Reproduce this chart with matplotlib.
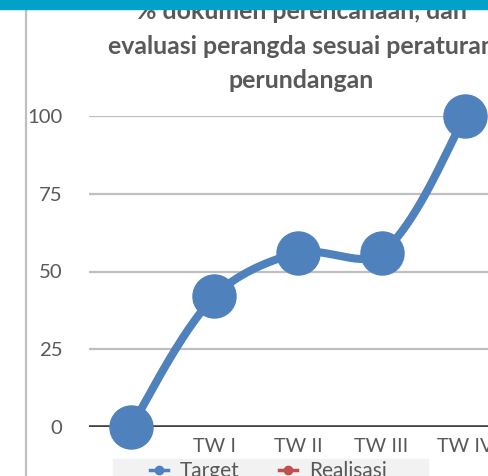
import matplotlib.pyplot as plt
import numpy as np
from matplotlib.lines import Line2D
from matplotlib.patches import Rectangle

# data
categories = ["", "TW I", "TW II", "TW III", "TW IV"]
target = [0, 42, 56, 55.8, 100]
realisasi = []
yticks = [0, 25, 50, 75, 100]
title_lines = ["% dokumen perencanaan, dan",
               "evaluasi perangda sesuai peraturan",
               "perundangan"]

W, H = 489, 476
plt.rcParams['font.family'] = ['Lato', 'DejaVu Sans']
fig = plt.figure(figsize=(W / 100, H / 100), dpi=100)


def fx(x):
    return x / W


def fy(y):
    return 1 - y / H


# plot area: x 89 -> 507 px, y 116 (100) -> 427 (0)
ax = fig.add_axes([fx(89), fy(427), (507 - 89) / W, (427 - 116) / H])
ax.set_xlim(-0.5, len(categories) - 0.5)
ax.set_ylim(0, 100)
for s in ax.spines.values():
    s.set_visible(False)
ax.set_yticks(yticks)
ax.set_yticklabels([str(v) for v in yticks], color='#595959', fontsize=14.6)
ax.tick_params(axis='y', length=0, pad=19)
ax.set_xticks(range(len(categories)))
ax.set_xticklabels(categories, color='#595959', fontsize=14.3)
ax.tick_params(axis='x', length=0, pad=8)
for v in yticks[1:]:
    ax.axhline(v, color='#BFBFBF', lw=1.6, zorder=1)
ax.axhline(0, color='#404040', lw=2.6, zorder=2, xmin=-0.005)


# excel style smoothed line, control points scaled by segment length
def smooth(xs, ys, n=40):
    sx = 83.6 / 3.11  # px per category / px per unit
    pts = np.column_stack([np.asarray(xs) * sx, ys]).astype(float)
    out = []
    for i in range(len(pts) - 1):
        p0 = pts[max(i - 1, 0)]
        p1 = pts[i]
        p2 = pts[i + 1]
        p3 = pts[min(i + 2, len(pts) - 1)]
        d01 = np.linalg.norm(p1 - p0)
        d12 = np.linalg.norm(p2 - p1)
        d23 = np.linalg.norm(p3 - p2)
        k1 = 2 * d12 / (d01 + d12) if d01 > 0 else 1
        k2 = 2 * d12 / (d12 + d23) if d23 > 0 else 1
        c1 = p1 + (p2 - p0) / 6 * k1
        c2 = p2 - (p3 - p1) / 6 * k2
        t = np.linspace(0, 1, n)[:, None]
        seg = ((1 - t) ** 3 * p1 + 3 * (1 - t) ** 2 * t * c1
               + 3 * (1 - t) * t ** 2 * c2 + t ** 3 * p2)
        out.append(seg)
    c = np.vstack(out)
    return c[:, 0] / sx, c[:, 1]


xs = np.arange(len(target))
cx, cy = smooth(xs, target)
ax.plot(cx, cy, color='#4F81BD', lw=5.8, zorder=3, clip_on=False,
        solid_capstyle='round')
ax.plot(xs, target, 'o', color='#4F81BD', ms=31, zorder=4, clip_on=False)

# title
for y, line in zip([19, 53.5, 87.5], title_lines):
    fig.text(fx(301), fy(y), line, ha='center', va='baseline',
             fontsize=17.9, fontweight='bold', color='#595959')

# top bar and left border
fig.add_artist(Rectangle((0, fy(9)), 1, 9 / H, transform=fig.transFigure,
                         color='#00A2C7', zorder=10))
fig.add_artist(Line2D([fx(26), fx(26)], [0, fy(9)], color='#BFBFBF', lw=1.6))

# legend (manual, cut off at bottom)
fig.add_artist(Rectangle((fx(113), 0), (428 - 113) / W, (476 - 459) / H,
                         transform=fig.transFigure, color='#F2F2F2', zorder=5))
for x0, col, name in [(150, '#4F81BD', 'Target'), (279, '#C0504D', 'Realisasi')]:
    fig.add_artist(Line2D([fx(x0), fx(x0 + 18)], [fy(470), fy(470)], color=col,
                          lw=2.5, zorder=6))
    fig.add_artist(Line2D([fx(x0 + 9)], [fy(470)], marker='o', ms=6, color=col,
                          zorder=6))
    fig.text(fx(x0 + 30), fy(471), name, ha='left', va='center', fontsize=15,
             color='#595959', zorder=6)

fig.savefig('out.png', dpi=100)
